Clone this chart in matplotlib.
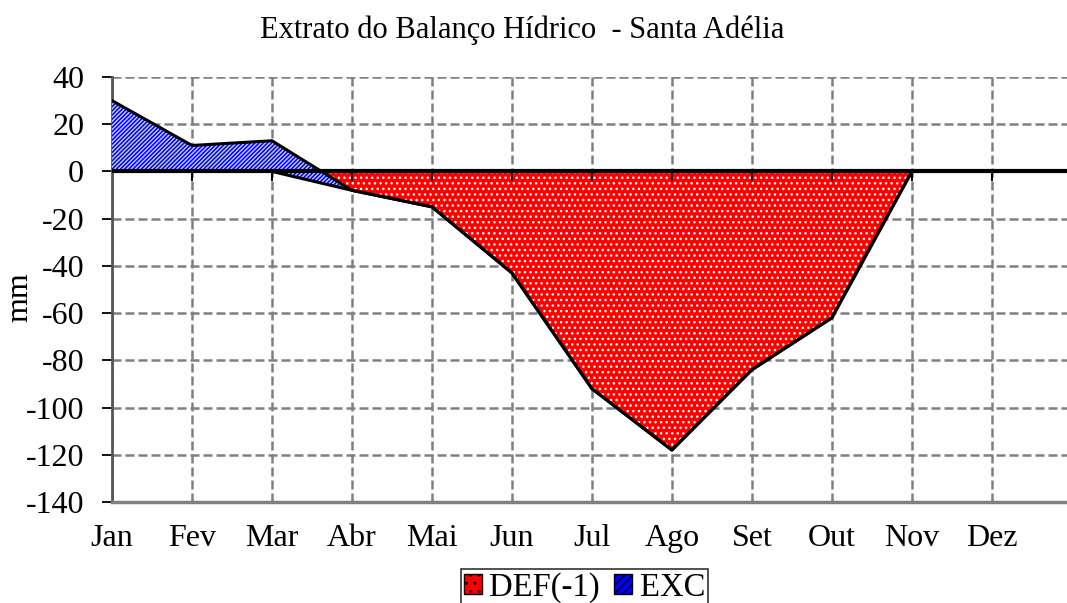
import numpy as np
import matplotlib.pyplot as plt
from matplotlib.patches import Patch

plt.rcParams['font.family'] = ['Liberation Serif', 'DejaVu Serif']
plt.rcParams['axes.unicode_minus'] = False
plt.rcParams['hatch.linewidth'] = 1.0

# data
months = ['Jan', 'Fev', 'Mar', 'Abr', 'Mai', 'Jun', 'Jul', 'Ago', 'Set', 'Out', 'Nov', 'Dez']
deficit = np.array([0, 0, 0, -8, -15, -43, -92, -118, -84, -62, 0, 0])
excess = np.array([30, 11, 13, 0, 0, 0, 0, 0, 0, 0, 0, 0])
yticks = [40, 20, 0, -20, -40, -60, -80, -100, -120, -140]

x = np.arange(len(months))
top = deficit + excess

fig = plt.figure(figsize=(10.67, 6.03), dpi=100)
ax = fig.add_axes([112/1067, 1 - 502/603, (1067-112)/1067, (502-77)/603])

ax.fill_between(x, 0, deficit, facecolor='#ff0000', edgecolor='white', hatch='...', lw=0, zorder=2)
ax.fill_between(x, deficit, top, facecolor='#0000ff', edgecolor='#c8d0ff', hatch='////////', lw=0, zorder=3)
ax.axhline(0, color='black', lw=3, zorder=4)
ax.plot(x, deficit, color='black', lw=2.2, zorder=5)
ax.plot(x, top, color='black', lw=2.2, zorder=5)
# category axis tick marks at zero
ax.plot(x[1:], np.zeros(len(x) - 1), ls='none', marker=3, ms=7, mew=1.5, color='black', zorder=5)

ax.set_xlim(0, 11.94)
ax.set_ylim(-140, 40)
ax.set_yticks(yticks)
ax.set_xticks(x)
ax.set_xticklabels(months)
ax.tick_params(axis='x', length=0, pad=16, labelsize=23)
ax.tick_params(axis='y', length=7, width=1.3, direction='out', labelsize=23, pad=13)

ax.grid(True, color='#808080', ls=(0, (3.6, 1.6)), lw=1.8)
ax.set_axisbelow(True)
for s in ['top', 'right']:
    ax.spines[s].set_visible(False)
ax.spines['left'].set_color('#555555')
ax.spines['left'].set_linewidth(2)
ax.spines['bottom'].set_color('#808080')
ax.spines['bottom'].set_linewidth(2.5)

ax.set_ylabel('mm', fontsize=23)
ax.yaxis.set_label_coords((34 - 112) / 955, (502 - 297) / 425)
fig.text(522/1067, 1 - 30/603, 'Extrato do Balanço Hídrico  - Santa Adélia', fontsize=22, ha='center', va='center')

handles = [Patch(facecolor='#ff0000', edgecolor='white', hatch='..', label='DEF(-1)'),
           Patch(facecolor='#0000ff', edgecolor='#c8d0ff', hatch='////', label='EXC')]
leg = fig.legend(handles=handles, loc='upper center', bbox_to_anchor=(584.5/1067, 1 - 569/603), ncol=2,
                 fontsize=23.5, frameon=True, fancybox=False, edgecolor='black',
                 handlelength=0.55, handleheight=0.55, handletextpad=0.22, columnspacing=0.45,
                 borderpad=0.1, borderaxespad=0)
leg.get_frame().set_linewidth(1.2)
for h in leg.legend_handles:
    h.set_edgecolor('black')

fig.savefig('out.png', dpi=100)
